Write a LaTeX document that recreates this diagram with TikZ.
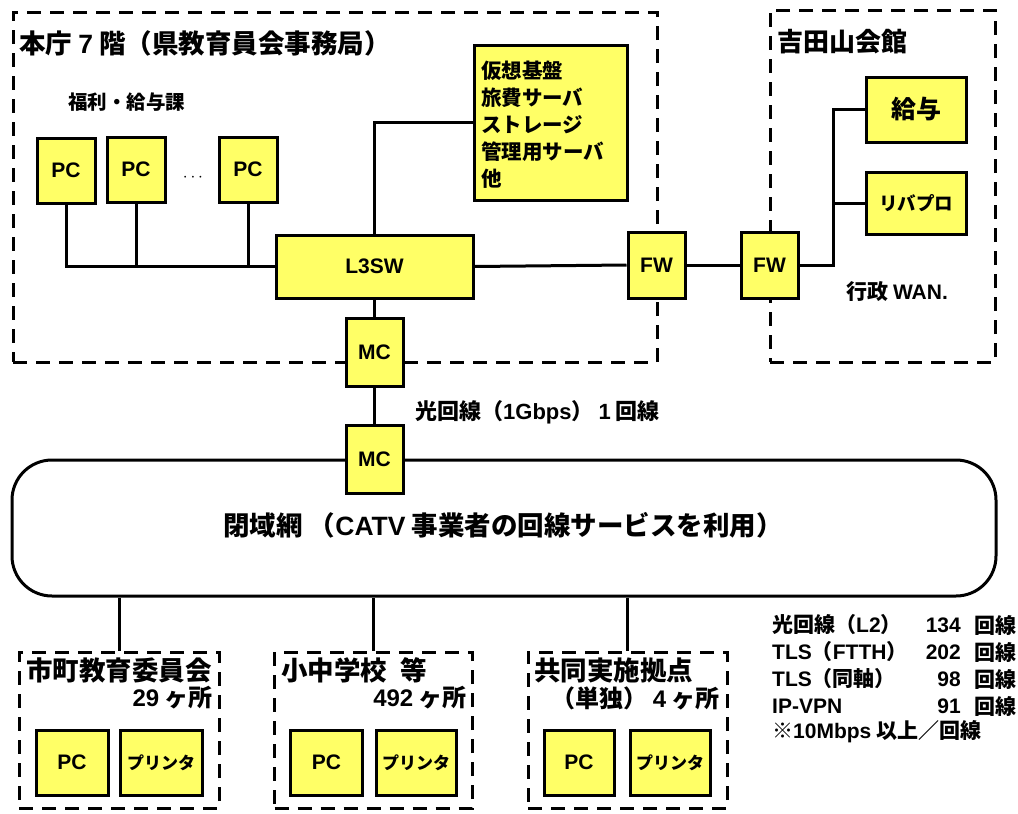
\documentclass[tikz,border=0pt]{standalone}
\usepackage{fontspec}
\setmainfont{Noto Sans CJK JP}
\newfontfamily\lat{Liberation Sans}
\newcommand\La[1]{{\lat #1}}
\definecolor{boxyellow}{RGB}{255,255,102}
\tikzset{
  every node/.style={font=\bfseries},
  ybox/.style={draw=black, line width=3pt, fill=boxyellow, inner sep=0pt, font=\bfseries\lat\fontsize{21}{23}\selectfont},
  region/.style={draw=black, line width=3pt, dash pattern=on 14pt off 9pt, inner sep=0pt},
  wire/.style={draw=black, line width=3pt},
  lbl/.style={inner sep=0pt, font=\bfseries\fontsize{21}{23}\selectfont},
  big/.style={font=\bfseries\fontsize{26.5}{28}\selectfont},
  cnt/.style={font=\bfseries\fontsize{24}{26}\selectfont},
  prn/.style={font=\bfseries\fontsize{17}{19}\selectfont},
}
\begin{document}
\begin{tikzpicture}[x=1pt,y=-1pt]
\useasboundingbox (0,0) rectangle (1018,814);
% regions
\node[region, minimum width=644pt, minimum height=350pt] (honcho) at (335,187) {};
\node[region, minimum width=225pt, minimum height=352pt] (yoshida) at (882.5,186) {};
\node[region, minimum width=200pt, minimum height=156pt] (b1) at (119,730) {};
\node[region, minimum width=198pt, minimum height=156pt] (b2) at (373.5,730) {};
\node[region, minimum width=199pt, minimum height=156pt] (b3) at (627.5,730) {};

% titles
\node[lbl, anchor=west, font=\bfseries\fontsize{26.5}{28}\selectfont] (t1) at (19,43) {本庁 \La{7} 階（県教育員会事務局）};
\node[lbl, anchor=west, font=\bfseries\fontsize{19.5}{21}\selectfont] (t2) at (68,102) {福利・給与課};
\node[lbl, anchor=west, font=\bfseries\fontsize{26}{28}\selectfont] (t3) at (777,42) {吉田山会館};
\node[lbl, anchor=west] (wan) at (846,292) {行政 \La{WAN.}};

% PCs
\node[ybox, minimum width=58pt, minimum height=65pt] (pc1) at (66,170.5) {PC};
\node[ybox, minimum width=58pt, minimum height=65pt] (pc2) at (136,169.5) {PC};
\node[ybox, minimum width=58pt, minimum height=65pt] (pc3) at (248,169.5) {PC};
\node[lbl, font=\lat\fontsize{16}{18}\selectfont] (dots) at (193,178) {$\cdots$};

\node[ybox, minimum width=197pt, minimum height=63pt] (l3sw) at (374.5,266.5) {L3SW};
\node[ybox, minimum width=153pt, minimum height=155pt] (srv) at (550.5,122.5) {};
\node[lbl, anchor=north west, align=left, font=\bfseries\fontsize{20.5}{27}\selectfont] (srvtxt) at (481,61) {仮想基盤\\旅費サーバ\\ストレージ\\管理用サーバ\\他};

\node[ybox, minimum width=57pt, minimum height=66pt] (fw1) at (656.5,265) {FW};
\node[ybox, minimum width=57pt, minimum height=66pt] (fw2) at (769.5,265) {FW};
\node[ybox, minimum width=100pt, minimum height=65pt, font=\bfseries\fontsize{25}{27}\selectfont] (kyuyo) at (916,109.5) {給与};
\node[ybox, minimum width=100pt, minimum height=62pt, font=\bfseries\fontsize{18.5}{20}\selectfont] (ribapuro) at (916,203) {リバプロ};

\node[ybox, minimum width=57pt, minimum height=68pt] (mc1) at (374.5,352) {MC};

% cloud
\node[draw=black, line width=3pt, fill=white, rounded corners=40pt, minimum width=984pt, minimum height=136pt] (cloud) at (504,528) {};
\node[lbl, font=\bfseries\fontsize{26.5}{28}\selectfont] (cloudtxt) at (503,525) {閉域網 （\La{CATV} 事業者の回線サービスを利用）};
\node[ybox, minimum width=57pt, minimum height=68pt] (mc2) at (374.5,459) {MC};
\node[lbl, anchor=west, font=\bfseries\fontsize{22}{24}\selectfont] (hikari) at (415,412) {光回線（\La{1Gbps}） \La{1} 回線};

% connectors
\draw[wire] (pc1.south) |- (l3sw.west);
\draw[wire] (pc2.south) -- (pc2.south |- l3sw.west);
\draw[wire] (pc3.south) -- (pc3.south |- l3sw.west);
\draw[wire] (l3sw.north) |- (srv.west);
\draw[wire] (l3sw.east) -- (fw1.west);
\draw[wire] (fw1.east) -- (fw2.west);
\coordinate (br) at (833,265);
\draw[wire] (fw2.east) -- (br) |- (kyuyo.west);
\draw[wire] (br |- ribapuro.west) -- (ribapuro.west);
\draw[wire] (l3sw.south) -- (mc1.north);
\draw[wire] (mc1.south) -- (mc2.north);
\draw[wire] (b1.north) -- (b1.north |- cloud.south);
\draw[wire] (b2.north) -- (b2.north |- cloud.south);
\draw[wire] (b3.north) -- (b3.north |- cloud.south);

% bottom boxes
\node[lbl, anchor=west, big] (b1t) at (26,670) {市町教育委員会};
\node[lbl, anchor=east, cnt] (b1n) at (213,698) {\La{29} ヶ所};
\node[ybox, minimum width=72pt, minimum height=65pt] (b1pc) at (72,762.5) {PC};
\node[ybox, minimum width=82pt, minimum height=65pt, prn] (b1pr) at (161,762.5) {プリンタ};

\node[lbl, anchor=west, big] (b2t) at (281,670) {小中学校\hspace{0.5em}等};
\node[lbl, anchor=east, cnt] (b2n) at (467,698) {\La{492} ヶ所};
\node[ybox, minimum width=72pt, minimum height=65pt] (b2pc) at (326.5,762.5) {PC};
\node[ybox, minimum width=80pt, minimum height=65pt, prn] (b2pr) at (416,762.5) {プリンタ};

\node[lbl, anchor=west, big] (b3t) at (534,670) {共同実施拠点};
\node[lbl, anchor=east, cnt] (b3n) at (720,698) {（単独） \La{4} ヶ所};
\node[ybox, minimum width=70pt, minimum height=65pt] (b3pc) at (579,762.5) {PC};
\node[ybox, minimum width=80pt, minimum height=65pt, prn] (b3pr) at (670,762.5) {プリンタ};

% right text block
\node[lbl, anchor=west] (r1a) at (772,625) {光回線（\La{L2}）};
\node[lbl, anchor=east] (r1b) at (961,625) {\La{134}};
\node[lbl, anchor=east] (r1c) at (1017,625) {回線};
\node[lbl, anchor=west] (r2a) at (772,652) {\La{TLS}（\La{FTTH}）};
\node[lbl, anchor=east] (r2b) at (961,652) {\La{202}};
\node[lbl, anchor=east] (r2c) at (1017,652) {回線};
\node[lbl, anchor=west] (r3a) at (772,679) {\La{TLS}（同軸）};
\node[lbl, anchor=east] (r3b) at (961,679) {\La{98}};
\node[lbl, anchor=east] (r3c) at (1017,679) {回線};
\node[lbl, anchor=west] (r4a) at (772,706) {\La{IP-VPN}};
\node[lbl, anchor=east] (r4b) at (961,706) {\La{91}};
\node[lbl, anchor=east] (r4c) at (1017,706) {回線};
\node[lbl, anchor=west] (r5a) at (772,732) {※\La{10Mbps} 以上／回線};
\end{tikzpicture}
\end{document}
